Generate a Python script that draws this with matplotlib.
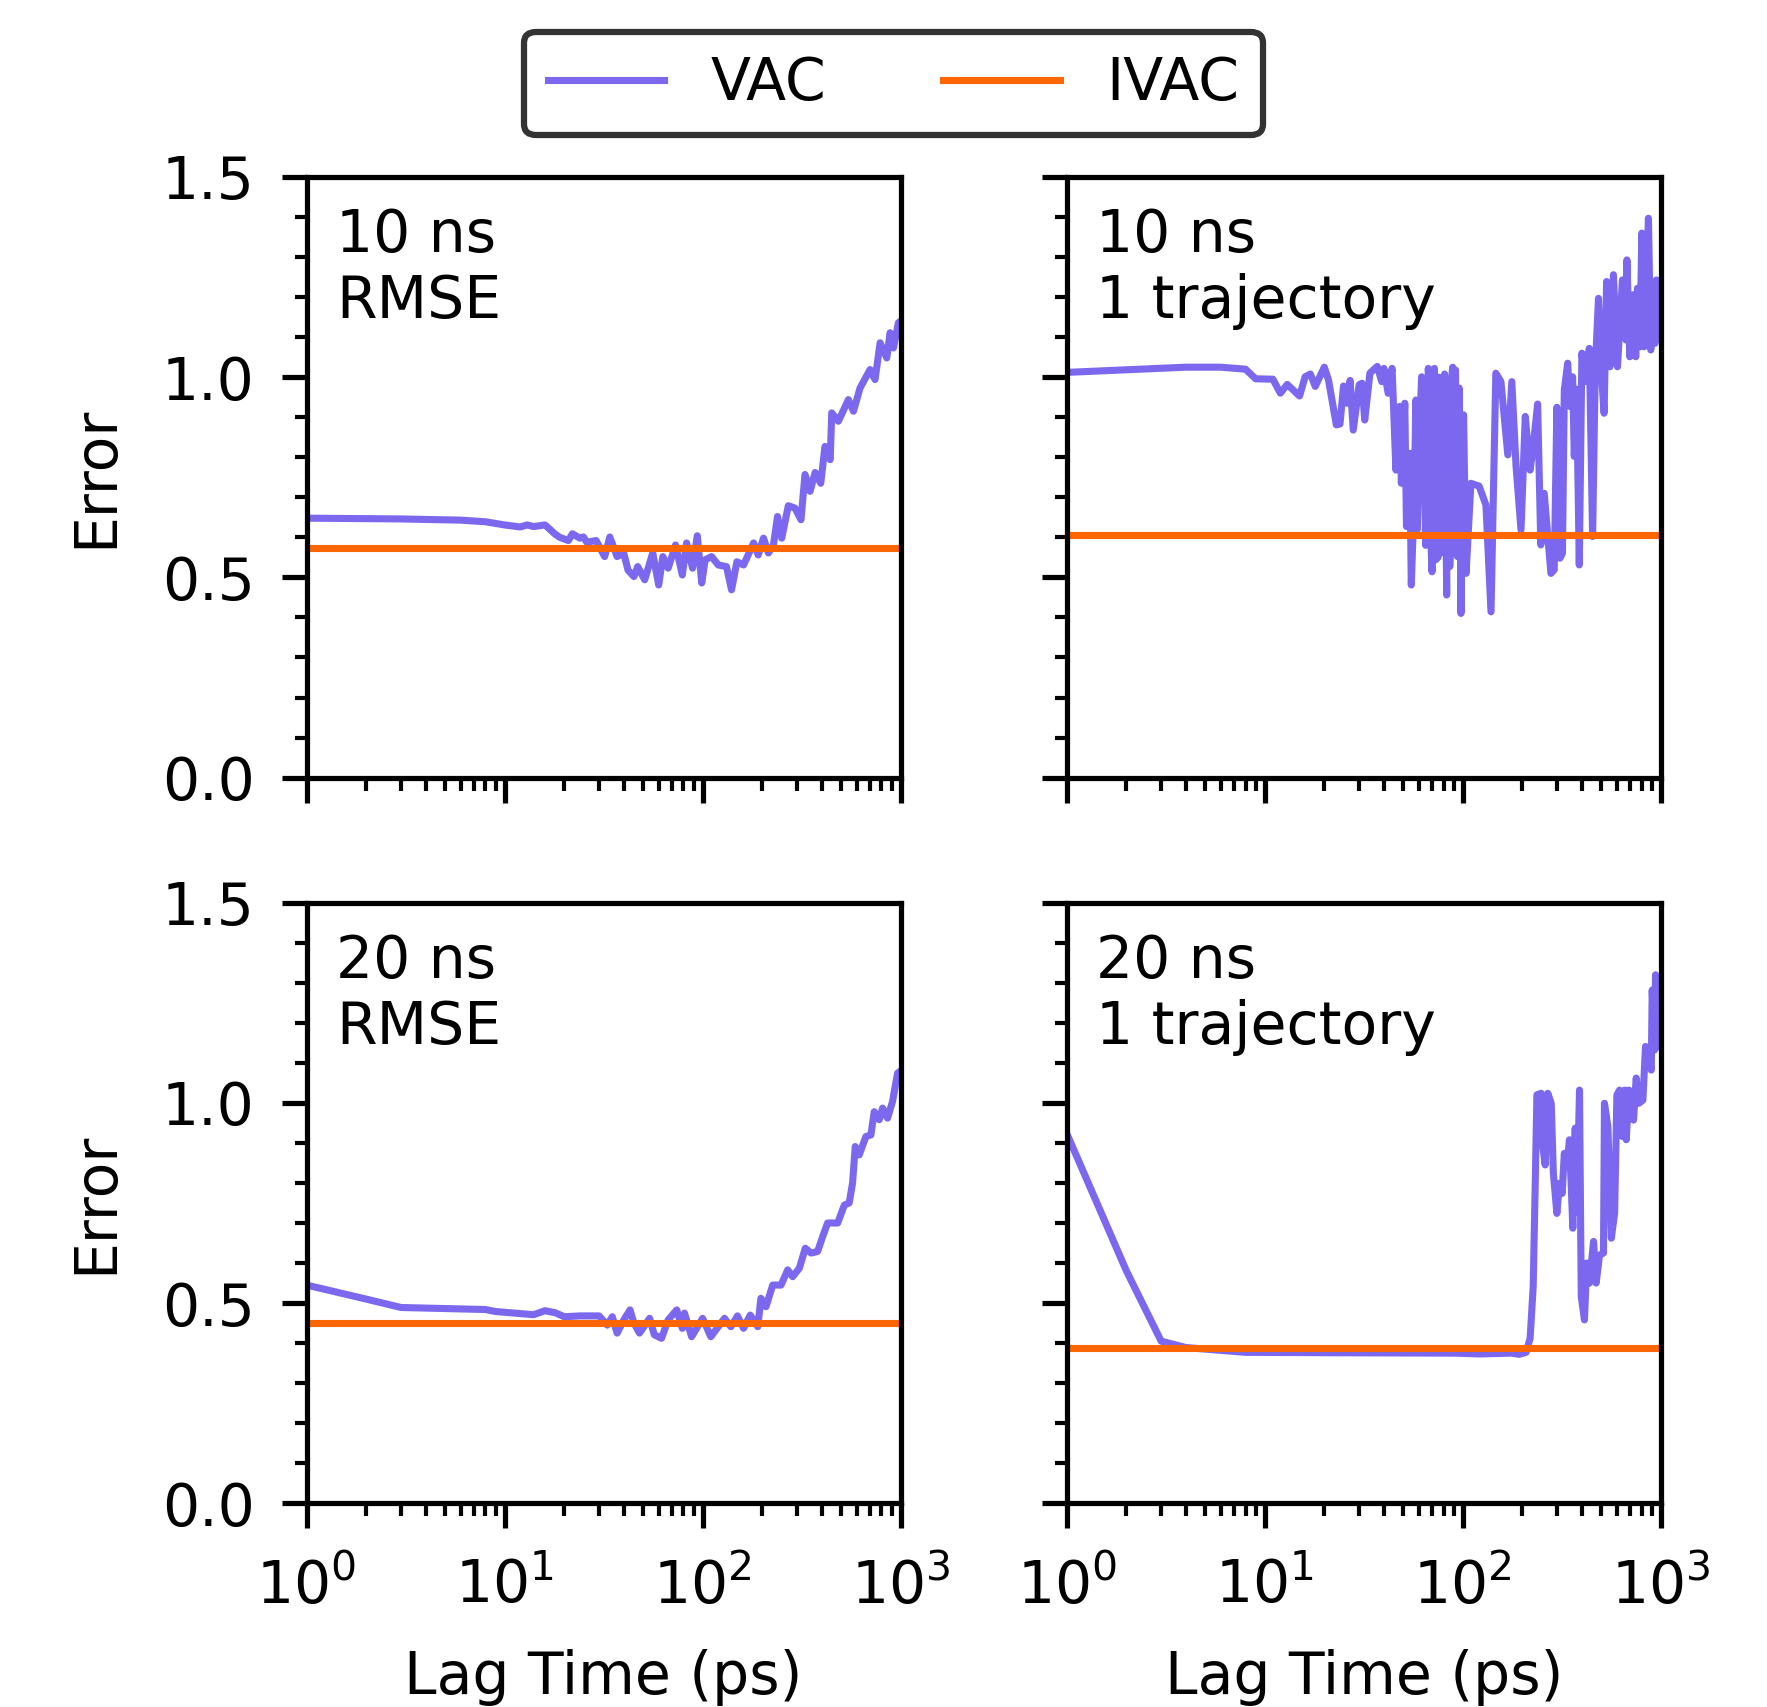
import matplotlib
matplotlib.use("Agg")
import matplotlib.pyplot as plt
from matplotlib.ticker import MultipleLocator

plt.rcParams.update({
    "font.family": ["DejaVu Sans"],
    "font.size": 14,
    "axes.linewidth": 1.25,
    "xtick.major.size": 6, "xtick.major.width": 1.25,
    "xtick.minor.size": 3, "xtick.minor.width": 1.0,
    "ytick.major.size": 6, "ytick.major.width": 1.25,
    "ytick.minor.size": 3, "ytick.minor.width": 1.0,
    "xtick.major.pad": 7, "ytick.major.pad": 6.5,
})

VAC_COLOR = "#7B68EE"
IVAC_COLOR = "#FF6600"

# ---- Panel A: 10 ns, RMSE ----
lag_a = [1, 3, 6, 8, 10, 12, 13, 14, 16, 18, 19, 21, 22, 24, 25, 26, 29, 32, 34, 37,
         40, 42, 45, 47, 51, 56, 60, 63, 67, 73, 79, 83, 89, 94, 99, 103, 111, 120,
         132, 140, 149, 161, 181, 191, 203, 215, 228, 239, 251, 271, 293, 314, 329,
         349, 370, 395, 415, 441, 449, 485, 545, 578, 624, 701, 743, 788, 851, 885,
         920, 975, 1000]
vac_a = [0.648, 0.646, 0.643, 0.639, 0.631, 0.626, 0.631, 0.627, 0.631, 0.608, 0.600,
         0.592, 0.609, 0.598, 0.601, 0.588, 0.592, 0.552, 0.601, 0.552, 0.560, 0.518,
         0.502, 0.527, 0.494, 0.561, 0.481, 0.552, 0.523, 0.581, 0.506, 0.586, 0.523,
         0.604, 0.486, 0.544, 0.552, 0.531, 0.527, 0.469, 0.539, 0.531, 0.586, 0.556,
         0.598, 0.561, 0.581, 0.652, 0.598, 0.679, 0.673, 0.644, 0.757, 0.715, 0.762,
         0.735, 0.827, 0.794, 0.911, 0.890, 0.944, 0.915, 0.973, 1.019, 0.994, 1.086,
         1.048, 1.111, 1.073, 1.136, 1.140]
ivac_a = 0.573

# ---- Panel B: 10 ns, 1 trajectory ----
lag_b = [1, 4, 6, 8, 9, 11, 12, 13, 15, 16, 17, 18, 20, 21, 23, 24, 25, 26, 27, 28,
         30, 31, 32, 34, 37, 39, 40, 42, 44, 45, 46, 48, 49, 51, 52, 54, 55, 57, 58,
         59, 60, 62, 63, 64, 65, 67, 68, 69, 70, 71, 72, 73, 75, 76, 77, 78, 80, 81,
         83, 84, 86, 87, 88, 89, 90, 91, 92, 93, 94, 96, 98, 101, 104, 110, 121, 131,
         139, 147, 156, 169, 177, 186, 197, 207, 219, 227, 239, 248, 258, 279, 290,
         299, 310, 319, 326, 339, 348, 359, 366, 376, 388, 400, 416, 436, 453, 467,
         485, 499, 518, 533, 554, 577, 605, 641, 667, 675, 698, 726, 748, 763, 785,
         803, 825, 867, 891, 916, 938, 951, 975, 990]
vac_b = [1.012, 1.025, 1.025, 1.020, 0.996, 0.995, 0.960, 0.982, 0.953, 1.001, 1.008,
         0.977, 1.025, 0.993, 0.881, 0.883, 0.978, 0.935, 0.992, 0.868, 0.981, 0.985,
         0.893, 1.010, 1.027, 0.989, 1.022, 0.960, 1.022, 0.893, 0.768, 0.927, 0.735,
         0.935, 0.627, 0.810, 0.481, 0.710, 0.943, 0.620, 0.802, 1.001, 0.950, 0.777,
         0.580, 1.022, 0.980, 0.600, 0.514, 0.980, 1.022, 0.544, 0.550, 1.000, 0.560,
         0.600, 0.980, 1.008, 0.456, 0.980, 0.527, 0.600, 1.000, 1.025, 0.600, 1.000,
         1.018, 0.580, 0.552, 0.973, 0.410, 0.906, 0.510, 0.735, 0.728, 0.681, 0.414,
         1.010, 0.989, 0.806, 0.989, 0.777, 0.619, 0.902, 0.768, 0.827, 0.933, 0.581,
         0.710, 0.510, 0.519, 0.925, 0.548, 0.560, 0.968, 1.035, 0.927, 1.001, 0.802,
         0.970, 0.531, 1.060, 0.989, 1.072, 0.602, 1.018, 1.197, 1.026, 0.910, 1.239,
         1.026, 1.256, 1.026, 1.243, 1.093, 1.293, 1.051, 1.206, 1.051, 1.222, 1.076,
         1.360, 1.076, 1.397, 1.068, 1.201, 1.085, 1.243, 1.100, 1.240]
ivac_b = 0.605

# ---- Panel C: 20 ns, RMSE ----
lag_c = [1, 2, 3, 8, 9, 14, 16, 18, 20, 24, 30, 33, 35, 37, 40, 43, 45, 48, 54, 57,
         62, 67, 74, 79, 81, 88, 100, 110, 129, 139, 150, 161, 174, 190, 197, 209,
         226, 249, 269, 285, 308, 330, 353, 381, 404, 428, 481, 520, 550, 572, 590,
         618, 668, 708, 736, 780, 811, 859, 910, 965, 1000]
vac_c = [0.545, 0.510, 0.489, 0.484, 0.479, 0.471, 0.481, 0.476, 0.466, 0.468, 0.468,
         0.445, 0.466, 0.425, 0.458, 0.483, 0.450, 0.425, 0.462, 0.421, 0.412, 0.458,
         0.483, 0.437, 0.475, 0.416, 0.462, 0.416, 0.462, 0.441, 0.468, 0.437, 0.470,
         0.441, 0.512, 0.491, 0.545, 0.545, 0.583, 0.566, 0.587, 0.637, 0.625, 0.629,
         0.666, 0.700, 0.700, 0.745, 0.750, 0.800, 0.891, 0.870, 0.916, 0.920, 0.978,
         0.958, 0.987, 0.962, 1.003, 1.074, 1.080]
ivac_c = 0.450

# ---- Panel D: 20 ns, 1 trajectory ----
lag_d = [1, 2, 3, 4, 8, 23, 92, 122, 176, 193, 209, 219, 227, 233, 237, 249, 254, 261,
         269, 280, 287, 299, 308, 318, 326, 336, 346, 360, 370, 377, 389, 397, 412,
         423, 437, 458, 472, 491, 514, 520, 541, 563, 585, 601, 620, 640, 657, 670,
         691, 710, 729, 752, 776, 813, 838, 879, 896, 906, 931, 942, 955, 975]
vac_d = [0.924, 0.581, 0.405, 0.389, 0.377, 0.376, 0.375, 0.373, 0.375, 0.372, 0.377,
         0.412, 0.541, 0.824, 1.020, 1.024, 0.891, 0.845, 1.024, 0.999, 0.824, 0.724,
         0.799, 0.774, 0.874, 0.841, 0.908, 0.687, 0.937, 0.728, 1.032, 0.516, 0.458,
         0.600, 0.550, 0.654, 0.550, 0.620, 0.625, 0.999, 0.941, 0.662, 0.724, 1.020,
         1.032, 0.916, 1.032, 0.908, 1.032, 0.987, 0.957, 1.062, 0.999, 1.007, 1.141,
         1.107, 1.082, 1.282, 1.132, 1.320, 1.141, 1.140]
ivac_d = 0.387

panel_texts = ["10 ns\nRMSE", "10 ns\n1 trajectory", "20 ns\nRMSE", "20 ns\n1 trajectory"]
panels = [(lag_a, vac_a, ivac_a), (lag_b, vac_b, ivac_b),
          (lag_c, vac_c, ivac_c), (lag_d, vac_d, ivac_d)]

W, H = 1767, 1707
fig = plt.figure(figsize=(W / 300, H / 300), dpi=300)

ax_w = 594 / W
ax_h = 600.6 / H
lefts = [306.6 / W, 1066.7 / W]
bottoms = [1 - 777.6 / H, 1 - 1503.3 / H]

axes = []
for i, (lag, vac, ivac) in enumerate(panels):
    r, c = divmod(i, 2)
    ax = fig.add_axes([lefts[c], bottoms[r], ax_w, ax_h])
    axes.append(ax)
    lv, = ax.plot(lag, vac, color=VAC_COLOR, lw=1.7, label="VAC")
    li = ax.axhline(ivac, color=IVAC_COLOR, lw=1.7, label="IVAC")
    ax.set_xscale("log")
    ax.set_xlim(1, 1000)
    ax.set_ylim(0, 1.5)
    ax.yaxis.set_major_locator(MultipleLocator(0.5))
    ax.yaxis.set_minor_locator(MultipleLocator(0.1))
    ax.text(0.05, 0.95, panel_texts[i], transform=ax.transAxes, va="top", ha="left",
            fontsize=14)
    if c == 0:
        ax.set_ylabel("Error", labelpad=9)
    else:
        ax.tick_params(axis="y", labelleft=False)
    if r == 0:
        ax.tick_params(axis="x", which="both", labelbottom=False)
    else:
        ax.set_xlabel("Lag Time (ps)", labelpad=8)

leg = fig.legend([lv, li], ["VAC", "IVAC"], loc="upper center",
                 bbox_to_anchor=(893.7 / W, 1 - 31.6 / H), borderaxespad=0,
                 ncol=2, fontsize=14, edgecolor="k", framealpha=0.8, fancybox=True)
leg.get_frame().set_linewidth(1.5)

fig.savefig("out.png", dpi=300)
